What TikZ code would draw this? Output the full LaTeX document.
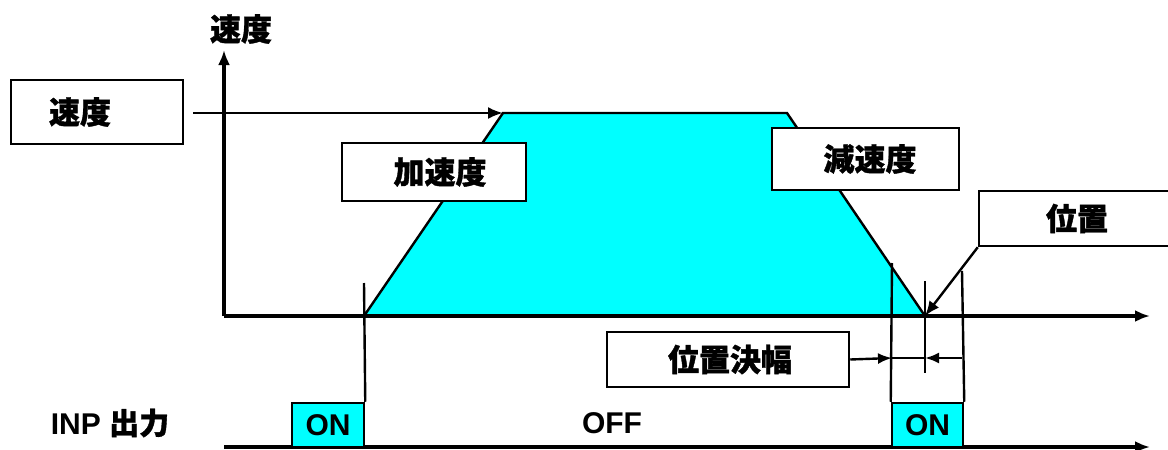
\documentclass[tikz,border=0pt]{standalone}
\usepackage{fontspec}
\setmainfont{Liberation Sans}
\newfontfamily\cjk{Noto Sans CJK JP}[BoldFeatures={FakeBold=1.2}]
\usetikzlibrary{arrows.meta}
\definecolor{aqua}{RGB}{0,255,255}
\begin{document}
\begin{tikzpicture}[x=1pt,y=-1pt,
  box/.style={draw, line width=2.5pt, fill=white, inner sep=0pt, font=\cjk\bfseries\fontsize{31}{31}\selectfont},
  onbox/.style={draw, line width=2.5pt, fill=aqua, inner sep=0pt, font=\bfseries\fontsize{30}{30}\selectfont},
  lbl/.style={inner sep=0pt, font=\bfseries\fontsize{30}{30}\selectfont},
  ax/.style={line width=3.5pt},
  ln/.style={line width=2.4pt},
  tipa/.style={-{Latex[length=15pt,width=12pt]}},
  tipb/.style={-{Latex[length=14pt,width=11pt]}}]
\useasboundingbox (0,0) rectangle (1168,450);
% coordinates
\coordinate (O) at (224,316);
\coordinate (A) at (364,316);
\coordinate (B) at (503,113);
\coordinate (C) at (787,113);
\coordinate (D) at (925,316);
\coordinate (Xend) at (1150,316);
\coordinate (Yend) at (224,50);
\coordinate (O2) at (224,447);
\coordinate (X2end) at (1150,447);
% trapezoid
\fill[aqua] (A) -- (B) -- (C) -- (D) -- cycle;
\draw[ln] (A) -- (B) -- (C) -- (D);
% axes
\draw[ax,tipa] (O) -- (Yend);
\draw[ax,tipa] (O) -- (Xend);
\draw[ax,tipa] (O2) -- (X2end);
\node[lbl, font=\cjk\bfseries\fontsize{31}{31}\selectfont] (ylab) at (241,29) {速度};
% boxes
\node[box, minimum width=172pt, minimum height=64pt] (spd) at (97,112) {\hspace*{-34pt}速度};
\node[box, minimum width=184pt, minimum height=58pt] (acc) at (434,172) {\hspace*{12pt}加速度};
\node[box, minimum width=187pt, minimum height=62pt] (dec) at (865.5,159) {\hspace*{9pt}減速度};
\node[box, minimum width=196pt, minimum height=55pt] (pos) at (1077,218.5) {位置};
\node[box, minimum width=242pt, minimum height=55pt] (posw) at (728,359.5) {\hspace*{4pt}位置決幅};
% speed arrow
\draw[ln,tipa,shorten <=9pt] (spd.east |- B) -- (B);
% position arrow
\draw[ln,tipa] (pos.south west) -- (D);
% INP boxes
\node[onbox, minimum width=72pt, minimum height=44pt] (on1) at (328,425) {ON};
\node[onbox, minimum width=71pt, minimum height=44pt] (on2) at (927.5,425) {ON};
\node[lbl] (off) at (612,423) {OFF};
\node[lbl] (inp) at (110,423) {INP {\cjk\bfseries 出力}};
% vertical markers
\coordinate (v1t) at (364,283);
\coordinate (v2t) at (892,263);
\coordinate (v3t) at (925,281);
\coordinate (v3b) at (925,373);
\coordinate (v4t) at (962,271);
\draw[ln] (v1t) -- (on1.north east);
\draw[ln] (v2t) -- (on2.north west);
\draw[ln] (v3t) -- (v3b);
\draw[ln] (v4t) -- (on2.north east);
% width arrows
\coordinate (w1) at (892,358);
\coordinate (w2) at (925,358);
\coordinate (w3) at (962,358);
\draw[ln,tipb] (posw.east) -- (w1);
\draw[ln] (w1) -- (w2);
\draw[ln,tipb] (w3) -- (w2);
\end{tikzpicture}
\end{document}
